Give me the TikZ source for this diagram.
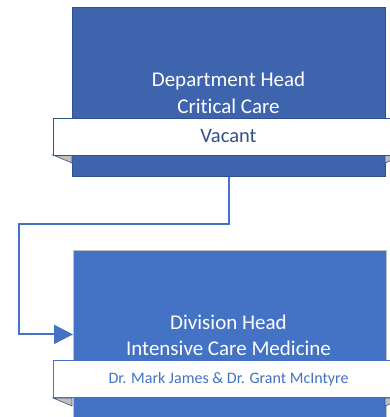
\documentclass[tikz,border=0pt]{standalone}
\usepackage{fontspec}
\setmainfont{Carlito}[Ligatures=NoCommon]
\usetikzlibrary{positioning}
\usetikzlibrary{arrows.meta}

\definecolor{deptblue}{HTML}{3F64AE}
\definecolor{deptline}{HTML}{2F528F}
\definecolor{divblue}{HTML}{4472C4}
\definecolor{foldgray}{HTML}{BFBFBF}

\tikzset{
  headbox/.style={draw=#1, line width=1pt, minimum width=313pt, inner sep=0pt, anchor=north west},
  banner/.style={draw=#1, fill=white, line width=1pt, minimum width=351pt, minimum height=37pt, inner sep=0pt, anchor=north west},
  fold/.style={fill=foldgray, draw=deptline, line width=0.6pt},
  conn/.style={draw=divblue, line width=2.2pt, -{Triangle[length=19pt,width=19pt]}}
}

\begin{document}
\begin{tikzpicture}[x=1pt,y=1pt]
\useasboundingbox (0,0) rectangle (390,417);
\begin{scope}
\clip (0,0) rectangle (390,417);

%% top box
\node[headbox=deptline, fill=deptblue, minimum height=169pt] (dept) at (72,410) {};
\node[text=white, font=\fontsize{21}{27}\selectfont, align=center] (depttext) at (228.5,324) {Department Head\\Critical Care};

\fill[fold] (53,262) -- (72,262) -- (72,254) -- cycle;
\fill[fold] (404,262) -- (385,262) -- (385,254) -- cycle;
\node[banner=deptline] (vacant) at (53,299) {};
\node[text=deptline, font=\fontsize{20.5}{24}\selectfont] (vacanttext) at (228.5,280.5) {Vacant};

%% bottom box
\node[headbox=foldgray, fill=divblue, minimum height=168pt, line width=0.8pt] (div) at (73,167) {};
\node[text=white, font=\fontsize{21}{26}\selectfont, align=center] (divtext) at (228.5,81.5) {Division Head\\Intensive Care Medicine};

\fill[fold] (53,19) -- (72,19) -- (72,11) -- cycle;
\fill[fold] (404,19) -- (385,19) -- (385,11) -- cycle;
\node[banner=divblue] (names) at (53,57) {};
\node[text=divblue, font=\fontsize{16}{19}\selectfont] (namestext) at (228.5,38) {Dr. Mark James \& Dr. Grant McIntyre};
\end{scope}

%% connector
\coordinate (turn) at (19,193);
\draw[conn] (dept.south) |- (turn) |- (div.west);
\end{tikzpicture}
\end{document}
